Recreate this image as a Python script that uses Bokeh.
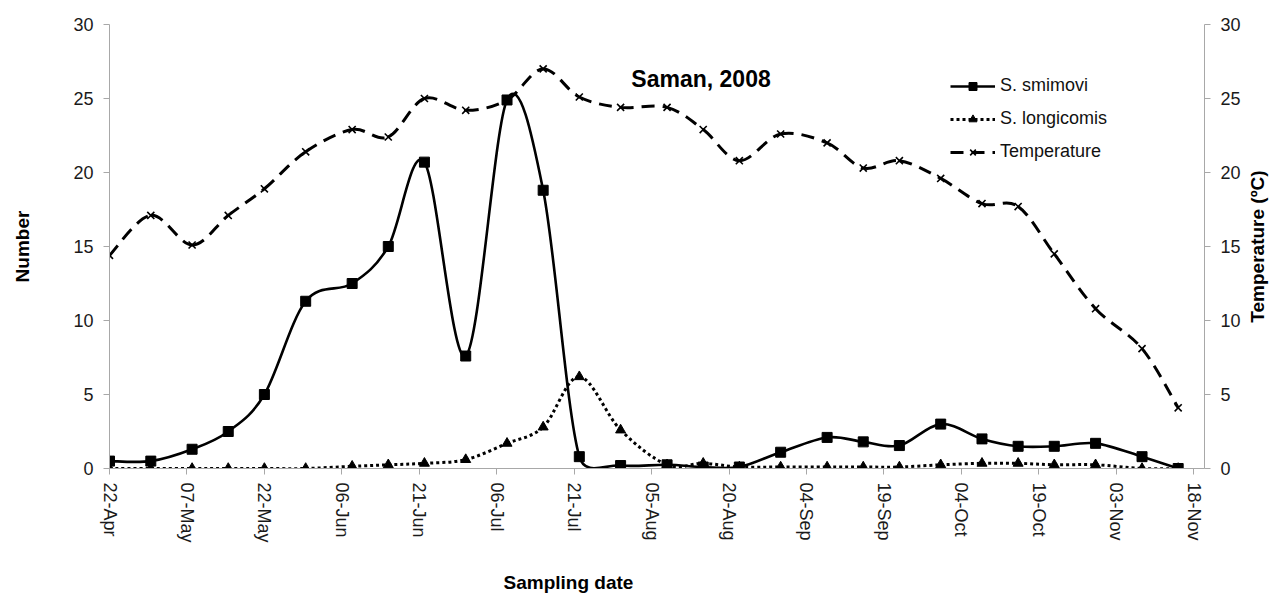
import math
import numpy as np
import pandas as pd
from bokeh.plotting import figure
from bokeh.layouts import row, column
from bokeh.models import (Range1d, LinearAxis, FixedTicker, DatetimeTickFormatter,
                          Legend, LegendItem, Label, Title)
from bokeh.embed import file_html
from bokeh.resources import INLINE

# ---------------- data ----------------
dates = ["2008-04-22", "2008-04-30", "2008-05-08", "2008-05-15", "2008-05-22", "2008-05-30",
         "2008-06-08", "2008-06-15", "2008-06-22", "2008-06-30", "2008-07-08", "2008-07-15",
         "2008-07-22", "2008-07-30", "2008-08-08", "2008-08-15", "2008-08-22", "2008-08-30",
         "2008-09-08", "2008-09-15", "2008-09-22", "2008-09-30", "2008-10-08", "2008-10-15",
         "2008-10-22", "2008-10-30", "2008-11-08", "2008-11-15"]
smirnovi = [0.5, 0.5, 1.3, 2.5, 5.0, 11.3, 12.5, 15.0, 20.7, 7.6, 24.9, 18.8, 0.8, 0.2,
            0.25, 0.1, 0.1, 1.1, 2.1, 1.8, 1.55, 3.0, 2.0, 1.5, 1.5, 1.7, 0.8, 0.0]
longicornis = [0, 0, 0, 0, 0, 0, 0.15, 0.25, 0.35, 0.6, 1.7, 2.8, 6.2, 2.6,
               0.25, 0.35, 0.1, 0.1, 0.1, 0.1, 0.1, 0.25, 0.35, 0.35, 0.25, 0.25, 0.0, 0.0]
temperature = [14.4, 17.1, 15.1, 17.1, 18.9, 21.4, 22.9, 22.4, 25.0, 24.2, 24.9, 27.0, 25.1, 24.4,
               24.4, 22.9, 20.8, 22.6, 22.0, 20.3, 20.8, 19.6, 17.9, 17.7, 14.5, 10.8, 8.1, 4.1]
tick_dates = ["2008-04-22", "2008-05-07", "2008-05-22", "2008-06-06", "2008-06-21",
              "2008-07-06", "2008-07-21", "2008-08-05", "2008-08-20", "2008-09-04",
              "2008-09-19", "2008-10-04", "2008-10-19", "2008-11-03", "2008-11-18"]
y_ticks = [0, 5, 10, 15, 20, 25, 30]

FONT = "Liberation Sans"
x_dt = pd.to_datetime(dates)
x_ms = np.array([t.value / 1e6 for t in x_dt])
start = pd.Timestamp("2008-04-22")
end = start + pd.Timedelta(days=212.1)

DAY_MS = 86400000.0
SX = 5.176   # approx px per day, for the Excel-like smoothing
SY = 14.8    # approx px per unit


def ms(ts):
    return pd.Timestamp(ts).value / 1e6


def excel_smooth(xms, yv):
    """Bezier control points like Excel's smoothed line."""
    px = (np.asarray(xms) - xms[0]) / DAY_MS * SX
    py = np.asarray(yv, dtype=float) * SY
    n = len(px)
    out = {k: [] for k in ("x0", "y0", "x1", "y1", "cx0", "cy0", "cx1", "cy1")}
    for i in range(n - 1):
        i0 = i - 1 if i > 0 else i
        i3 = i + 2 if i + 2 < n else i + 1
        P0 = np.array([px[i0], py[i0]]); P1 = np.array([px[i], py[i]])
        P2 = np.array([px[i + 1], py[i + 1]]); P3 = np.array([px[i3], py[i3]])
        d12 = np.hypot(*(P2 - P1)); d02 = np.hypot(*(P2 - P0)); d13 = np.hypot(*(P3 - P1))
        f1 = 1 / 6 if (d02 == 0 or d02 / 6 < d12 / 2) else d12 / (2 * d02)
        f2 = 1 / 6 if (d13 == 0 or d13 / 6 < d12 / 2) else d12 / (2 * d13)
        C1 = P1 + f1 * (P2 - P0)
        C2 = P2 - f2 * (P3 - P1)
        for key, pt in (("0", P1), ("1", P2)):
            out["x" + key].append(xms[0] + pt[0] / SX * DAY_MS)
            out["y" + key].append(pt[1] / SY)
        out["cx0"].append(xms[0] + C1[0] / SX * DAY_MS); out["cy0"].append(C1[1] / SY)
        out["cx1"].append(xms[0] + C2[0] / SX * DAY_MS); out["cy1"].append(C2[1] / SY)
    return out


W_MAIN, H_MAIN = 1243, 569
W_SIDE, H_FOOT = 27, 24
FL, FT, FR, FB = 109, 24, 1207, 468   # frame edges in canvas pixels
p = figure(width=W_MAIN, height=H_MAIN, x_axis_type="datetime",
           x_range=Range1d(start, end), y_range=Range1d(0, 30),
           output_backend="svg", toolbar_location=None,
           min_border_left=FL, min_border_right=W_MAIN - FR, min_border_top=FT,
           min_border_bottom=H_MAIN - FB)
p.extra_y_ranges = {"temp": Range1d(0, 30)}
p.outline_line_color = None
p.xgrid.visible = False
p.ygrid.visible = False
p.background_fill_color = "white"
p.border_fill_color = "white"

AX_COL = "#a8a8a8"

# x axis
xa = p.xaxis[0]
xa.ticker = FixedTicker(ticks=[ms(d) for d in tick_dates])
fmt = "%d-%b"
xa.formatter = DatetimeTickFormatter(days=fmt, months=fmt, hours=fmt, years=fmt,
                                     milliseconds=fmt, seconds=fmt, minutes=fmt, minsec=fmt,
                                     hourmin=fmt)
xa.major_label_orientation = -math.pi / 2
xa.major_label_standoff = 8

# left y axis
ya = p.yaxis[0]
ya.ticker = FixedTicker(ticks=y_ticks)
ya.axis_label = "Number"
ya.major_label_standoff = 10
ya.axis_label_standoff = 37

# right y axis (title drawn in the side strip so it reads bottom-to-top)
yr = LinearAxis(y_range_name="temp", ticker=FixedTicker(ticks=y_ticks))
yr.major_label_standoff = 10
p.add_layout(yr, "right")

for ax in (xa, ya, yr):
    ax.axis_line_color = AX_COL
    ax.major_tick_line_color = AX_COL
    ax.minor_tick_line_color = None
    ax.major_tick_out = 6
    ax.major_tick_in = 0
    ax.major_label_text_font = FONT
    ax.major_label_text_font_size = "18px"
    ax.major_label_text_color = "#1a1a1a"
    ax.axis_label_text_font = FONT
    ax.axis_label_text_font_style = "bold"
    ax.axis_label_text_font_size = "19px"
    ax.axis_label_text_color = "black"

# ---------------- series ----------------
bt = excel_smooth(x_ms, temperature)
ln_t = p.bezier(line_color="black", line_width=3, line_dash="13 8",
                y_range_name="temp", **bt)
sc_t = p.scatter(x_dt, temperature, marker="x", size=10, line_color="black", line_width=1.6,
                 y_range_name="temp")

bl = excel_smooth(x_ms, longicornis)
ln_l = p.bezier(line_color="black", line_width=3, line_dash="3 3", **bl)
sc_l = p.scatter(x_dt, longicornis, marker="triangle", size=10, fill_color="black",
                 line_color="black")

bs = excel_smooth(x_ms, smirnovi)
ln_s = p.bezier(line_color="black", line_width=2.6, **bs)
sc_s = p.scatter(x_dt, smirnovi, marker="square", size=10, fill_color="black",
                 line_color="black")

legend = Legend(items=[
    LegendItem(label="S. smimovi", renderers=[ln_s, sc_s], index=0),
    LegendItem(label="S. longicomis", renderers=[ln_l, sc_l], index=0),
    LegendItem(label="Temperature", renderers=[ln_t, sc_t], index=0),
], location=(841, 306))
legend.label_text_font = FONT
legend.label_text_font_size = "18px"
legend.label_text_color = "#111111"
legend.glyph_width = 45
legend.glyph_height = 20
legend.label_height = 20
legend.spacing = 12
legend.padding = 0
legend.margin = 0
legend.label_standoff = 5
legend.border_line_color = None
legend.background_fill_alpha = 0
p.add_layout(legend)

# chart title inside the plot area
p.add_layout(Label(x=ms("2008-08-14 14:00"), y=26.3, text="Saman, 2008",
                   text_align="center", text_baseline="middle", text_font=FONT,
                   text_font_size="23px", text_font_style="bold", text_color="black"))


def strip(width, height, **borders):
    f = figure(width=width, height=height, output_backend="svg", toolbar_location=None,
               x_axis_location=None, y_axis_location=None, **borders)
    f.outline_line_color = None
    f.background_fill_color = "white"
    f.border_fill_color = "white"
    return f


# right-hand strip with the temperature axis title (reads bottom-to-top)
side = strip(W_SIDE, H_MAIN, min_border_top=FT, min_border_bottom=H_MAIN - FB,
             min_border_left=0, min_border_right=0)
side.add_layout(Title(text="Temperature (ºC)", align="center", text_font=FONT,
                      text_font_size="19px", text_font_style="bold", text_color="black",
                      standoff=2), "left")

# bottom strip with the x axis title, left of centre as in the reference
foot = strip(W_MAIN + W_SIDE, H_FOOT, min_border_top=0, min_border_bottom=0,
             min_border_left=0, min_border_right=0)
foot.add_layout(Title(text="Sampling date", align="left", offset=503, text_font=FONT,
                      text_font_size="19px", text_font_style="bold", text_color="black",
                      standoff=0), "above")

layout = column(row(p, side, spacing=0), foot, spacing=0)
open("out.html", "w").write(file_html(layout, INLINE))
